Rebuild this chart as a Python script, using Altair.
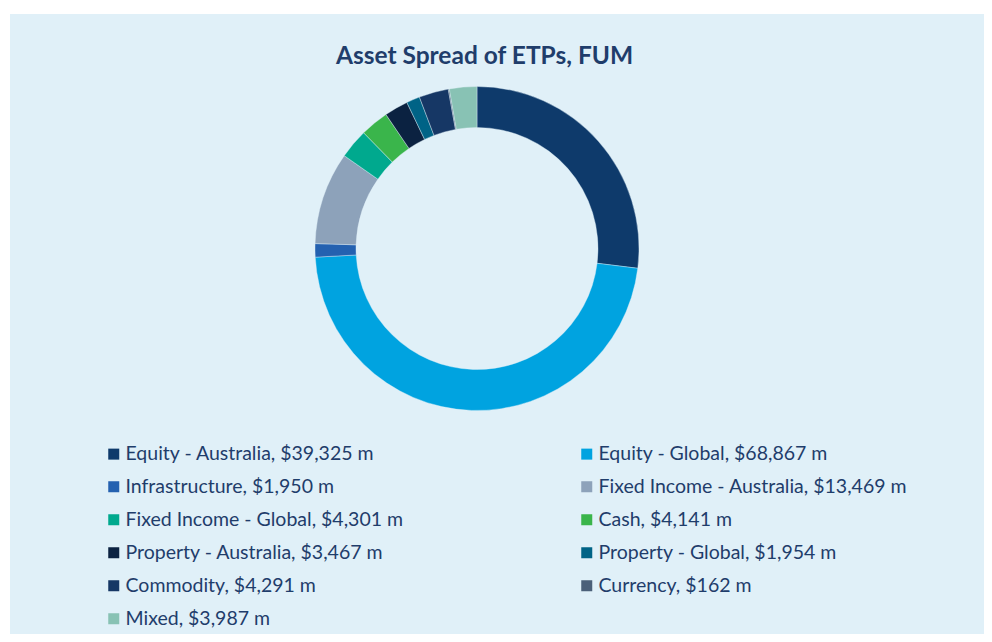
import altair as alt
import pandas as pd

categories = ["Equity - Australia", "Equity - Global", "Infrastructure",
              "Fixed Income - Australia", "Fixed Income - Global", "Cash",
              "Property - Australia", "Property - Global", "Commodity",
              "Currency", "Mixed"]
values = [39325, 68867, 1950, 13469, 4301, 4141, 3467, 1954, 4291, 162, 3987]
colors = ["#0E3A6B", "#00A3E0", "#2461B0", "#8DA2BA", "#00A98E", "#3AB54B",
          "#0B2241", "#006386", "#163765", "#4B6079", "#88C2B4"]
title_text = "Asset Spread of ETPs, FUM"

labels = [f"{c}, ${v:,} m" for c, v in zip(categories, values)]
df = pd.DataFrame({"label": labels, "value": values, "idx": list(range(len(values)))})

# legend is filled column by column: even items in the left column, odd in the right
legend_order = list(range(0, len(labels), 2)) + list(range(1, len(labels), 2))
dom = [labels[i] for i in legend_order]
rng = [colors[i] for i in legend_order]

W, H = 974, 620
BG = "#E0F0F8"
TXT = "#1F3D6B"

arc = alt.Chart(df).mark_arc(outerRadius=162, innerRadius=121, stroke=BG, strokeWidth=0.4).encode(
    x=alt.value(467),
    y=alt.value(234.5),
    theta=alt.Theta("value:Q", stack=True),
    order=alt.Order("idx:Q"),
    color=alt.Color("label:N",
                    scale=alt.Scale(domain=dom, range=rng),
                    sort=dom,
                    legend=alt.Legend(title=None, orient="none", legendX=94, legendY=430,
                                      columns=2, columnPadding=142, rowPadding=12,
                                      gridAlign="all", padding=0,
                                      symbolType="square", symbolSize=121, symbolStrokeWidth=0,
                                      labelFont="Lato", labelFontSize=19.5, labelColor=TXT,
                                      labelOffset=2, labelLimit=600)),
)

title = alt.Chart(pd.DataFrame({"t": [title_text]})).mark_text(
    font="Lato", fontSize=24.5, fontWeight="bold", color=TXT, baseline="middle", align="center"
).encode(x=alt.value(474.5), y=alt.value(43), text="t:N")

chart = alt.layer(arc, title).properties(
    width=W, height=H, background="white",
    padding={"left": 2, "top": 6, "right": 0, "bottom": 0},
    autosize=alt.AutoSizeParams(type="none")
).configure_view(stroke=None, fill=BG)

chart.save("out.html", embed_options={"renderer": "svg", "actions": False})
